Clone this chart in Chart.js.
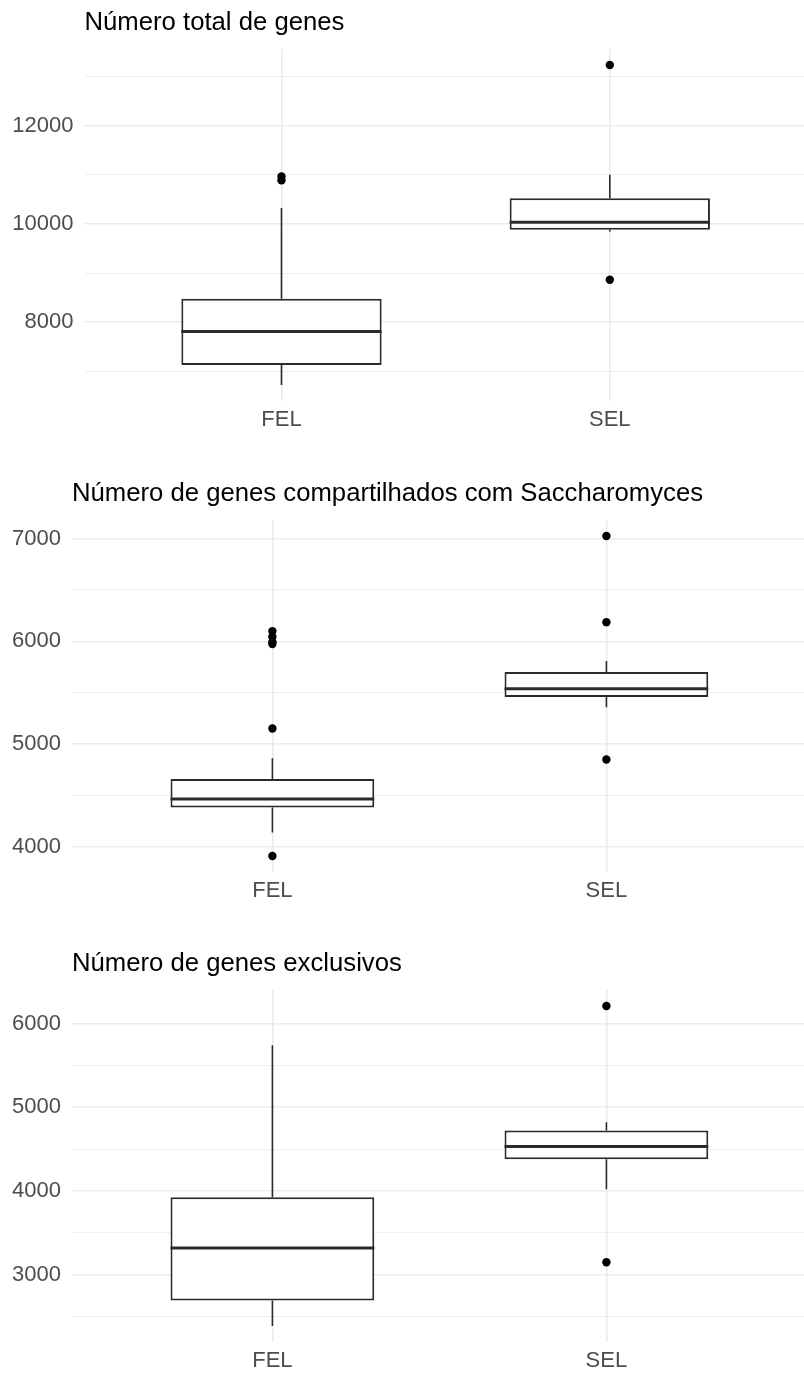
<!DOCTYPE html>
<html>
<head>
<meta charset="utf-8">
<script src="https://cdn.jsdelivr.net/npm/chart.js@4.4.1/dist/chart.umd.min.js"></script>
<style>
  html, body { margin: 0; padding: 0; background: #ffffff; overflow: hidden; width: 804px; height: 1373px; }
  canvas { position: absolute; left: 0; }
</style>
</head>
<body>
<canvas id="pTotal" width="811" height="434" style="top:-1px"></canvas>
<canvas id="pShared" width="811" height="434" style="top:470px"></canvas>
<canvas id="pExcl" width="811" height="434" style="top:940px"></canvas>
<script>
const categories = ['FEL', 'SEL'];

// Número total de genes
const totalLower  = [6720, 9850];
const totalQ1     = [7130, 9885];
const totalMedian = [7810, 10035];
const totalQ3     = [8480, 10525];
const totalUpper  = [10325, 11005];
const totalOutliers = [[10890, 10970], [8865, 13240]];

// Número de genes compartilhados com Saccharomyces
const sharedLower  = [4140, 5360];
const sharedQ1     = [4385, 5460];
const sharedMedian = [4466, 5540];
const sharedQ3     = [4660, 5702];
const sharedUpper  = [4862, 5810];
const sharedOutliers = [[3912, 5152, 5975, 5995, 6045, 6100], [4851, 6187, 7025]];

// Número de genes exclusivos
const exclLower  = [2384, 4020];
const exclQ1     = [2690, 4378];
const exclMedian = [3318, 4530];
const exclQ3     = [3925, 4721];
const exclUpper  = [5741, 4821];
const exclOutliers = [[], [3147, 6210]];

const FONT = "'Liberation Sans', Arial, Helvetica, sans-serif";
const INK = '#2b2b2b';
const GRID = '#ebebeb';
const TICK_COLOR = '#4d4d4d';

function makePanel(canvasId, title, lower, q1, median, q3, upper, outliers, majorStep, minorStep, axisWidth) {
  // 5% expansion of the data range on both ends
  const all = [].concat(lower, upper, ...outliers);
  const lo = Math.min(...all), hi = Math.max(...all);
  const pad = (hi - lo) * 0.05;

  const whiskerPlugin = {
    id: 'whiskers_' + canvasId,
    beforeDatasetsDraw(chart) {
      const { ctx, scales: { x, y } } = chart;
      ctx.save();
      ctx.strokeStyle = INK;
      ctx.lineWidth = 1.6;
      lower.forEach((v, i) => {
        const px = x.getPixelForValue(i + 1);
        ctx.beginPath();
        ctx.moveTo(px, y.getPixelForValue(v));
        ctx.lineTo(px, y.getPixelForValue(q1[i]));
        ctx.moveTo(px, y.getPixelForValue(q3[i]));
        ctx.lineTo(px, y.getPixelForValue(upper[i]));
        ctx.stroke();
      });
      ctx.restore();
    },
    afterDatasetsDraw(chart) {
      const { ctx, scales: { y } } = chart;
      const bars = chart.getDatasetMeta(0).data;
      ctx.save();
      ctx.strokeStyle = INK;
      ctx.lineWidth = 3;
      median.forEach((v, i) => {
        const el = bars[i];
        const py = y.getPixelForValue(v);
        ctx.beginPath();
        ctx.moveTo(el.x - el.width / 2, py);
        ctx.lineTo(el.x + el.width / 2, py);
        ctx.stroke();
      });
      ctx.restore();
    }
  };

  const outlierPoints = [];
  outliers.forEach((vals, i) => vals.forEach(v => outlierPoints.push({ x: i + 1, y: v })));

  return new Chart(document.getElementById(canvasId), {
    type: 'bar',
    data: {
      datasets: [
        {
          type: 'bar',
          data: categories.map((c, i) => ({ x: i + 1, y: [q1[i], q3[i]] })),
          backgroundColor: '#ffffff',
          borderColor: INK,
          borderWidth: 2,
          borderSkipped: false,
          categoryPercentage: 1,
          barPercentage: 0.61,
          order: 2
        },
        {
          type: 'scatter',
          data: outlierPoints,
          pointRadius: 4.2,
          pointBackgroundColor: '#000000',
          pointBorderWidth: 0,
          order: 1
        }
      ]
    },
    options: {
      responsive: false,
      animation: false,
      devicePixelRatio: 1,
      layout: { padding: { left: 12, right: 0, top: 0, bottom: 0 } },
      plugins: {
        legend: { display: false },
        tooltip: { enabled: false },
        title: {
          display: true,
          text: title,
          align: 'start',
          fullSize: false,
          color: '#000000',
          font: { family: FONT, size: 25.7, weight: 'normal' },
          padding: { top: 8.2, bottom: 11 }
        }
      },
      scales: {
        x: {
          type: 'linear',
          min: 0.4,
          max: 2.6,
          offset: false,
          afterBuildTicks: s => { s.ticks = categories.map((c, i) => ({ value: i + 1 })); },
          afterFit: s => { s.height = 32; },
          ticks: {
            callback: v => categories[v - 1] || '',
            color: TICK_COLOR,
            font: { family: FONT, size: 22 },
            padding: 6,
            autoSkip: false,
            maxRotation: 0
          },
          grid: { offset: false, drawTicks: false, color: GRID, lineWidth: 1.6 },
          border: { display: false }
        },
        y: {
          min: lo - pad,
          max: hi + pad,
          beginAtZero: false,
          afterBuildTicks: s => {
            const t = [];
            for (let v = Math.ceil(s.min / minorStep) * minorStep; v <= s.max; v += minorStep) t.push({ value: v });
            s.ticks = t;
          },
          afterFit: s => { s.width = axisWidth; },
          ticks: {
            callback: v => (v % majorStep === 0 ? String(v) : ''),
            color: TICK_COLOR,
            font: { family: FONT, size: 22 },
            padding: 11,
            autoSkip: false
          },
          grid: {
            drawTicks: false,
            color: GRID,
            lineWidth: c => (c.tick && c.tick.value % majorStep === 0 ? 1.6 : 0.8)
          },
          border: { display: false }
        }
      }
    },
    plugins: [whiskerPlugin]
  });
}

makePanel('pTotal', 'Número total de genes',
  totalLower, totalQ1, totalMedian, totalQ3, totalUpper, totalOutliers, 2000, 1000, 72.5);
makePanel('pShared', 'Número de genes compartilhados com Saccharomyces',
  sharedLower, sharedQ1, sharedMedian, sharedQ3, sharedUpper, sharedOutliers, 1000, 500, 60);
makePanel('pExcl', 'Número de genes exclusivos',
  exclLower, exclQ1, exclMedian, exclQ3, exclUpper, exclOutliers, 1000, 500, 60);
</script>
</body>
</html>
